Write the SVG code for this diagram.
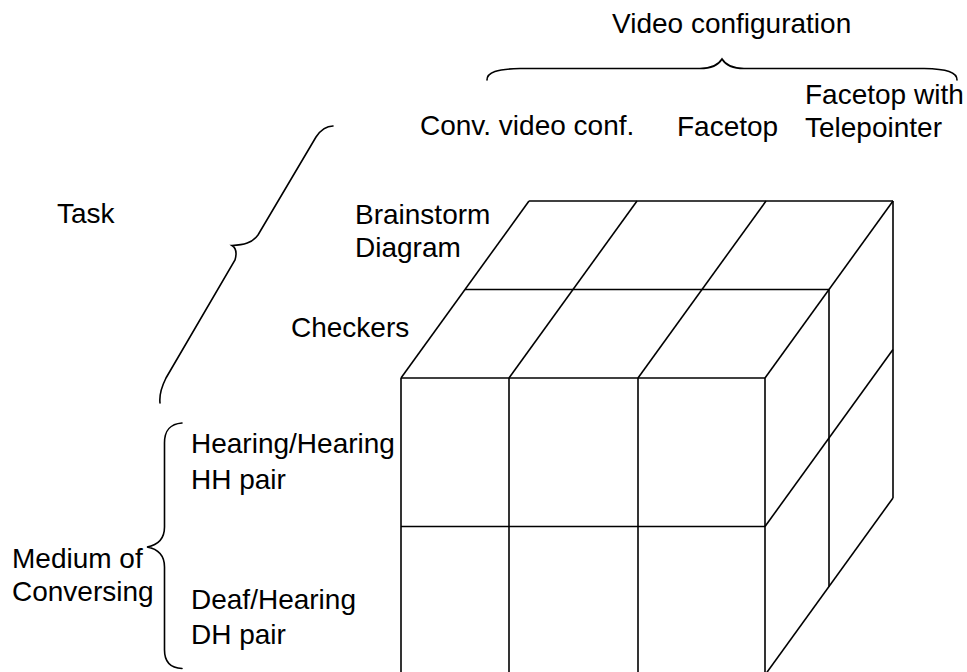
<svg xmlns="http://www.w3.org/2000/svg" width="967" height="672" viewBox="0 0 967 672">
<style>
.ln{fill:none;stroke:#000;stroke-width:1.6;stroke-linecap:butt;stroke-linejoin:miter}
.br{fill:none;stroke:#000;stroke-width:1.6;stroke-linecap:round}
.t{font-family:"Liberation Sans",Arial,sans-serif;font-size:28px;fill:#000}
</style>
<rect width="967" height="672" fill="#fff"/>
<g id="cube">
  <g id="front-face" class="ln">
    <line x1="401" y1="378" x2="765" y2="378"/>
    <line x1="401" y1="526.5" x2="765" y2="526.5"/>
    <line x1="401" y1="378" x2="401" y2="675"/>
    <line x1="509" y1="378" x2="509" y2="675"/>
    <line x1="638" y1="378" x2="638" y2="675"/>
    <line x1="765" y1="378" x2="765" y2="675"/>
  </g>
  <g id="top-face" class="ln">
    <line x1="529" y1="201" x2="893" y2="201"/>
    <line x1="465" y1="289.5" x2="829" y2="289.5"/>
    <line x1="401" y1="378" x2="529" y2="201"/>
    <line x1="509" y1="378" x2="637" y2="201"/>
    <line x1="638" y1="378" x2="766" y2="201"/>
    <line x1="765" y1="378" x2="893" y2="201"/>
  </g>
  <g id="right-face" class="ln">
    <line x1="829" y1="289.5" x2="829" y2="586.5"/>
    <line x1="893" y1="201" x2="893" y2="498"/>
    <line x1="765" y1="526.5" x2="893" y2="349.5"/>
    <line x1="765" y1="675" x2="893" y2="498"/>
  </g>
</g>
<g id="connectors">
  <path id="brace-video" class="br" d="M487,80 C487,72 497,69 520,68.5 L700,68.5 C712,68.5 719,64 722,59 C725,64 732,68.5 744,68.5 L924,68.5 C947,69 957,72 957,80"/>
  <path id="brace-task" class="br" d="M333,126 C325,126 320,131 316,137 L258,235 C252,243 244,245 232,245.5 C236,248 237,253 235,260 L166,378 C162,386 159,394 160,403"/>
  <path id="brace-medium" class="br" d="M182,423 C170,424 164.5,430 164.5,443 L164.5,527 C164.5,538 158,545 147,547 C158,549 164.5,556 164.5,567 L164.5,650 C164.5,662 170,668 182,668.5"/>
</g>
<g id="label-video-configuration"><text class="t" x="612" y="33">Video configuration</text></g>
<g id="label-conv"><text class="t" x="420" y="135">Conv. video conf.</text></g>
<g id="label-facetop"><text class="t" x="677" y="136">Facetop</text></g>
<g id="label-facetop-tele"><text class="t" x="805" y="104">Facetop with</text><text class="t" x="805" y="137">Telepointer</text></g>
<g id="label-task"><text class="t" x="57" y="223">Task</text></g>
<g id="label-brainstorm"><text class="t" x="355" y="224">Brainstorm</text><text class="t" x="355" y="257">Diagram</text></g>
<g id="label-checkers"><text class="t" x="291" y="337">Checkers</text></g>
<g id="label-hh"><text class="t" x="191" y="453">Hearing/Hearing</text><text class="t" x="191" y="489">HH pair</text></g>
<g id="label-dh"><text class="t" x="191" y="609">Deaf/Hearing</text><text class="t" x="191" y="644">DH pair</text></g>
<g id="label-medium"><text class="t" x="12" y="568">Medium of</text><text class="t" x="12" y="601">Conversing</text></g>
</svg>
